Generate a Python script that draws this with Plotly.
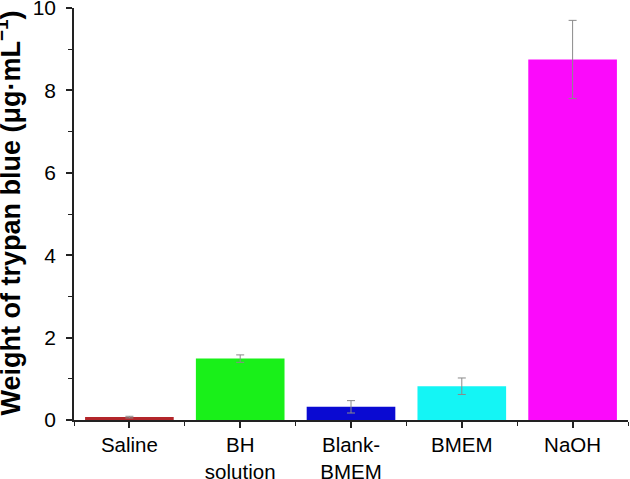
import plotly.graph_objects as go

categories = ["Saline", "BH<br>solution", "Blank-<br>BMEM", "BMEM", "NaOH"]
values = [0.07, 1.49, 0.32, 0.82, 8.75]
errors = [0.02, 0.09, 0.15, 0.2, 0.95]
colors = ["#b3262a", "#19f019", "#0a0ad2", "#14f5f5", "#fb0afb"]
y_ticks = [0, 2, 4, 6, 8, 10]
y_title = "<b>Weight of trypan blue (μg·mL<sup>−1</sup>)</b>"

x_pos = list(range(len(categories)))

W, H = 630, 479
L, R, T, B = 74, 2, 8, 59
plot_w = W - L - R
plot_h = H - T - B

fig = go.Figure()
fig.add_trace(go.Bar(
    x=x_pos, y=values,
    marker=dict(color=colors, line=dict(width=0)),
    width=0.8,
    error_y=dict(type="data", array=errors, visible=True,
                 color="#8a8a8a", thickness=1, width=4),
))

font_family = "Liberation Sans"
fig.update_layout(
    width=W, height=H,
    margin=dict(l=L, r=R, t=T, b=B),
    plot_bgcolor="white", paper_bgcolor="white",
    showlegend=False,
    font=dict(family=font_family, color="black", size=21),
    xaxis=dict(
        range=[-0.5, 4.5],
        automargin=False,
        tickvals=x_pos, ticktext=categories,
        ticks="outside", ticklen=6, tickwidth=1.5, tickcolor="#222",
        minor=dict(ticks="outside", ticklen=4, tickwidth=1.2, tickcolor="#222",
                   tick0=0.5, dtick=1),
        showline=True, linecolor="#222", linewidth=1.5,
        showgrid=False, zeroline=False,
        tickfont=dict(size=20.5, family=font_family),
    ),
    yaxis=dict(
        range=[0, 10],
        automargin=False,
        tickvals=y_ticks,
        ticks="outside", ticklen=6, tickwidth=1.5, tickcolor="#222",
        minor=dict(ticks="outside", ticklen=4, tickwidth=1.2, tickcolor="#222",
                   tick0=0, dtick=1),
        showline=True, linecolor="#222", linewidth=1.5,
        showgrid=False, zeroline=False,
        tickfont=dict(size=21, family=font_family),
        ticklabelstandoff=6,
        ticklabeloverflow="allow",
    ),
    annotations=[dict(
        text=y_title, textangle=-90,
        xref="paper", yref="paper",
        x=(9 - L) / plot_w, y=(T + plot_h - 213.5) / plot_h,
        xanchor="center", yanchor="middle",
        showarrow=False,
        font=dict(size=27, family=font_family, color="black"),
    )],
)

fig.write_html("out.html", config={"displayModeBar": False},
               post_script="document.body.style.margin='0';")
